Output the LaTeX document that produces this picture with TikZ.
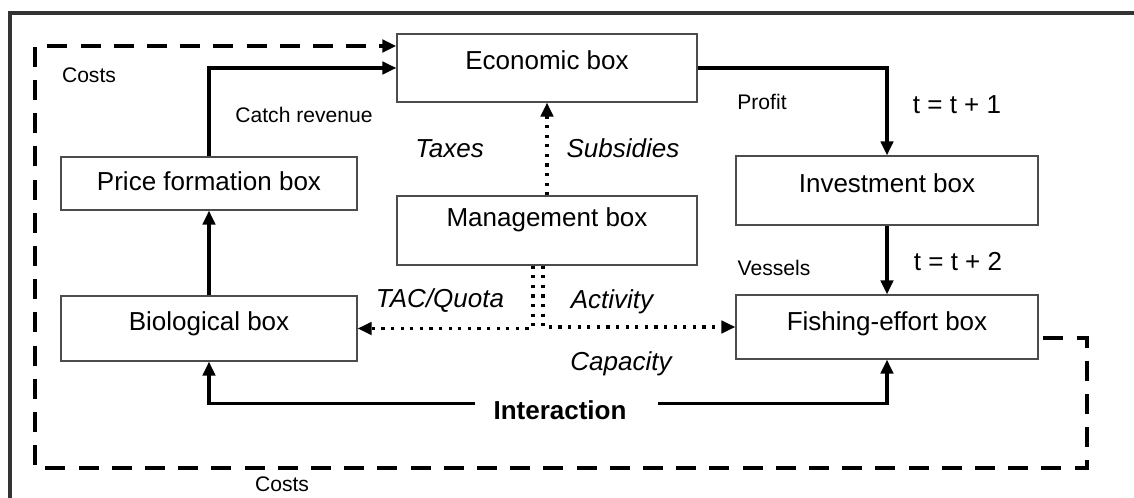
\documentclass[tikz,border=0pt]{standalone}
\usepackage{fontspec}
\setmainfont{Liberation Sans}
\usetikzlibrary{arrows.meta}

\begin{document}
\begin{tikzpicture}[>={Triangle[length=3.5mm,width=3.1mm]}]
\useasboundingbox (0,0) rectangle (28.35,12.45);
\tikzstyle{every node} = [font=\fontsize{18.5}{22}\selectfont]
\tikzstyle{box} = [draw=black!70, line width=.9pt, minimum width=7.5cm, minimum height=1.7cm, text height=13.3pt, text depth=10pt]
\tikzstyle{flow} = [->, line width=.8mm]
\tikzstyle{policy} = [->, line width=.8mm, dash pattern=on .8mm off 1.6mm]
\tikzstyle{costs} = [->, line width=.9mm, dash pattern=on 5mm off 3.3mm]
\tikzstyle{lab} = [text height=13.3pt, text depth=0pt, inner sep=0pt]
\tikzstyle{small} = [lab, text height=10.8pt, font=\fontsize{15}{18}\selectfont]
\tikzstyle{tag} = [lab, font=\itshape\fontsize{18.5}{22}\selectfont]

% frame
\draw[line width=1mm, black!80] (0.25,0) |- (28.35,12.125);

% boxes
\node[box, text depth=11.5pt] (eco) at (13.675,10.75) {Economic box};
\node[box, minimum width=7.4cm, minimum height=1.325cm, text depth=3.6pt] (price) at (5.225,7.8625) {Price formation box};
\node[box, minimum height=1.725cm, text depth=18.6pt] (mgmt) at (13.675,6.6875) {Management box};
\node[box, minimum width=7.55cm, minimum height=1.725cm] (inv) at (22.175,7.6875) {Investment box};
\node[box, minimum width=7.4cm, minimum height=1.625cm, text depth=10.7pt] (bio) at (5.225,4.2375) {Biological box};
\node[box, minimum width=7.55cm, minimum height=1.6cm, text depth=8.6pt] (fish) at (22.175,4.275) {Fishing-effort box};
\node[lab, font=\bfseries\fontsize{18.5}{22}\selectfont] (inter) at (14.0,2.2) {Interaction};

% solid flows
\draw[flow] (price.north) |- (eco.west);
\draw[flow] (bio) -- (price);
\draw[flow] (eco.east) -| (inv.north);
\draw[flow] (inv) -- (fish);
\draw[flow] ([xshift=-4.5mm,yshift=1.6mm]inter.west) -| (bio.south);
\draw[flow] ([xshift=7.75mm,yshift=1.6mm]inter.east) -| (fish.south);

% management
\draw[policy] (mgmt) -- (eco);
\draw[policy] ([xshift=-3.5mm]mgmt.south) |- (bio.east);
\draw[policy] ([xshift=-1mm]mgmt.south) |- (fish.west);

% costs loop
\coordinate (sw) at (0.875,0.75);
\coordinate (se) at (27.175,0.75);
\draw[costs] ([xshift=1.2mm,yshift=-2.75mm]fish.east) -| (se) -- (sw) |- ([yshift=5.5mm]eco.west);

% labels
\node[small] (costtop) at (2.225,10.575) {Costs};
\node[small] (costbot) at (7.05,0.35) {Costs};
\node[small] (catch) at (7.6,9.575) {Catch revenue};
\node[tag] (taxes) at (11.24,8.75) {Taxes};
\node[tag] (subs) at (15.575,8.75) {Subsidies};
\node[small] (profit) at (19.05,9.9125) {Profit};
\node[lab] (t1) at (23.925,9.85) {t = t + 1};
\node[small] (vessels) at (19.35,5.75) {Vessels};
\node[lab] (t2) at (23.95,5.925) {t = t + 2};
\node[tag] (tac) at (11.0,5.0) {TAC/Quota};
\node[tag] (act) at (15.3,4.975) {Activity};
\node[tag] (cap) at (15.525,3.425) {Capacity};
\end{tikzpicture}
\end{document}
